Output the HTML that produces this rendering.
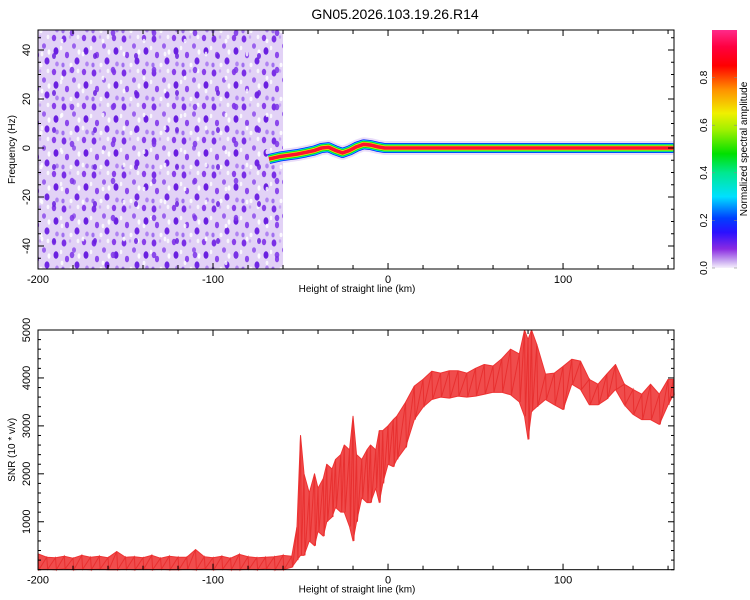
<!DOCTYPE html>
<html><head><meta charset="utf-8">
<style>
html,body{margin:0;padding:0;background:#fff;}
svg{display:block;font-family:"Liberation Sans",sans-serif;}
</style></head>
<body>
<svg id="fig" width="750" height="600" viewBox="0 0 750 600" xmlns="http://www.w3.org/2000/svg">
<defs>
<pattern id="noiseA" width="30" height="34" patternUnits="userSpaceOnUse">
<rect width="30" height="34" fill="#e2d2f6"/>
<ellipse cx="4" cy="5" rx="2.4" ry="3.6" fill="#7a2fe6"/>
<ellipse cx="14" cy="12" rx="2" ry="2.8" fill="#9a60ee"/>
<ellipse cx="24" cy="4" rx="2.2" ry="3.2" fill="#8a40ea"/>
<ellipse cx="26" cy="17" rx="2.5" ry="3.8" fill="#6a1fe0"/>
<ellipse cx="7" cy="21" rx="2.1" ry="3.3" fill="#8c48ec"/>
<ellipse cx="17" cy="27" rx="2.5" ry="3.6" fill="#7026e4"/>
<ellipse cx="27" cy="30" rx="1.8" ry="2.5" fill="#b083f2"/>
<ellipse cx="3" cy="31" rx="1.6" ry="2.4" fill="#a070f0"/>
<ellipse cx="11" cy="31" rx="1.5" ry="2.2" fill="#fff" opacity="0.85"/>
<ellipse cx="19" cy="18" rx="1.5" ry="2.8" fill="#fff" opacity="0.9"/>
<ellipse cx="1" cy="14" rx="1.3" ry="2.2" fill="#fff" opacity="0.8"/>
<ellipse cx="18" cy="3" rx="1.4" ry="2.2" fill="#fff" opacity="0.8"/>
<ellipse cx="10" cy="3" rx="1.2" ry="1.8" fill="#c8a8f4"/>
</pattern>
<pattern id="noiseB" width="41" height="37" patternUnits="userSpaceOnUse" patternTransform="translate(7,11)">
<ellipse cx="6" cy="8" rx="2" ry="3" fill="#6a1fe0" opacity="0.85"/>
<ellipse cx="24" cy="22" rx="2.3" ry="3.2" fill="#7c34e8" opacity="0.85"/>
<ellipse cx="35" cy="6" rx="1.4" ry="2.4" fill="#fff" opacity="0.8"/>
<ellipse cx="14" cy="30" rx="1.4" ry="2.2" fill="#fff" opacity="0.8"/>
</pattern>
<linearGradient id="cbar" x1="0" y1="1" x2="0" y2="0">
<stop offset="0" stop-color="#f6f0fc"/>
<stop offset="0.03" stop-color="#c8a8f0"/>
<stop offset="0.08" stop-color="#8a2be2"/>
<stop offset="0.15" stop-color="#2a10ff"/>
<stop offset="0.21" stop-color="#0040ff"/>
<stop offset="0.3" stop-color="#00e0ff"/>
<stop offset="0.4" stop-color="#00e890"/>
<stop offset="0.48" stop-color="#00e000"/>
<stop offset="0.58" stop-color="#a0f000"/>
<stop offset="0.65" stop-color="#f0f000"/>
<stop offset="0.75" stop-color="#ff9000"/>
<stop offset="0.85" stop-color="#ff0000"/>
<stop offset="0.93" stop-color="#ff0040"/>
<stop offset="1" stop-color="#ff2a8a"/>
</linearGradient>
</defs>
<text x="395" y="19" text-anchor="middle" font-size="14" fill="#000">GN05.2026.103.19.26.R14</text>
<g id="topPanel"></g>
<g id="botPanel"></g>
<g id="cbPanel"></g>
</svg>
<script>
// ---------- data ----------
const ridgeKm   = [-68,-62,-57,-52,-47,-42,-38,-34,-30,-26,-22,-18,-14,-10,-6,-2,20,60,100,140,163];
const ridgeHz   = [-4.5,-3.5,-3,-2.5,-1.8,-1,0,0.3,-1,-2,-1,0.5,1.5,1.2,0.5,0,0,0,0,0,0];
const snrKm  = [-200,-195,-190,-185,-180,-175,-170,-165,-160,-155,-150,-145,-140,-135,-130,-125,-120,-115,-110,-105,-100,-95,-90,-85,-80,-75,-70,-65,-60,-55,-52,-50,-48,-45,-42,-40,-37,-35,-32,-30,-27,-25,-22,-20,-18,-15,-12,-10,-7,-5,-3,0,3,5,10,15,20,25,30,35,40,45,50,55,60,65,70,75,78,80,82,85,90,95,100,105,110,115,120,125,130,135,140,145,150,155,160,163];
const snrHi  = [330,260,250,280,240,300,260,280,250,380,260,270,250,300,240,280,260,260,420,270,250,280,240,320,270,250,260,270,300,280,900,2800,2000,1600,2000,1700,1900,2200,2100,2300,2400,2600,2500,3200,2400,2300,2500,2600,2500,2900,2900,3000,3130,3200,3490,3830,3970,4140,4100,4150,4150,4100,4200,4280,4250,4400,4600,4500,5000,4800,5000,4700,4080,4100,4240,4390,4350,3970,3870,4080,4280,3870,3760,3660,3870,3660,3970,3970];
const snrLo  = [0,10,0,20,0,10,0,15,0,0,10,0,20,0,10,0,0,10,0,20,0,10,0,0,10,0,20,0,0,50,200,300,300,600,500,800,700,1000,1100,1300,1200,1200,900,600,1000,1500,1400,1400,1700,1400,1800,2200,2150,2300,2550,3130,3390,3550,3600,3580,3620,3600,3620,3660,3700,3700,3650,3500,3200,2720,3300,3400,3550,3440,3340,3870,3760,3440,3440,3560,3760,3440,3240,3130,3130,3030,3440,3640];
const xTicks = [-200,-100,0,100];
const fTicks = [-40,-20,0,20,40];
const sTicks = [1000,2000,3000,4000,5000];
const cTicks = [0.0,0.2,0.4,0.6,0.8];

const NS='http://www.w3.org/2000/svg';
function mk(tag,attrs,parent){const e=document.createElementNS(NS,tag);for(const k in attrs)e.setAttribute(k,attrs[k]);parent.appendChild(e);return e;}
const X0=38,X1=674,KM0=-200,KM1=163.4;
const xs=v=>X0+(v-KM0)*(X1-X0)/(KM1-KM0);
const T0=30,T1=269; const fy=v=>148-v*2.45;
const B0=330,B1=569.7; const sy=v=>B1-v*(B1-B0)/5000;

function axes(g,y0,y1,yMinorStep,yMin,yMax,yScale,ticks,fmt,yname,ylab){
  mk('rect',{x:X0,y:y0,width:X1-X0,height:y1-y0,fill:'none',stroke:'#000','stroke-width':1},g);
  for(let v=-200;v<=160;v+=20){const x=xs(v);const maj=v%100===0;const L=maj?6:4;
    mk('line',{x1:x,y1:y0,x2:x,y2:y0+L,stroke:'#000'},g);mk('line',{x1:x,y1:y1,x2:x,y2:y1-L,stroke:'#000'},g);}
  xTicks.forEach(v=>{const t=mk('text',{x:xs(v),y:y1+14,'text-anchor':'middle','font-size':11},g);t.textContent=v;
    
    });
  const xl=mk('text',{x:357,y:y1+23,'text-anchor':'middle','font-size':10},g);xl.textContent='Height of straight line (km)';
  
  
  for(let v=yMin;v<=yMax;v+=yMinorStep){const y=yScale(v);if(y<y0-0.5||y>y1+0.5)continue;
    const maj=ticks.includes(v);const L=maj?6:3;
    mk('line',{x1:X0,y1:y,x2:X0+L,y2:y,stroke:'#000'},g);mk('line',{x1:X1,y1:y,x2:X1-L,y2:y,stroke:'#000'},g);}
  ticks.forEach(v=>{const y=yScale(v);const t=mk('text',{x:0,y:0,'text-anchor':'middle','font-size':11,transform:`translate(30,${y}) rotate(-90)`},g);t.textContent=fmt(v);
    
    });
  const yl=mk('text',{x:0,y:0,'text-anchor':'middle','font-size':10,transform:`translate(15,${(y0+y1)/2}) rotate(-90)`},g);yl.textContent=ylab;
  
  
}

// ---------- top spectrogram ----------
const topG=document.getElementById('topPanel');


const nz=mk('rect',{x:X0,y:T0,width:xs(-60)-X0,height:T1-T0,fill:'url(#noiseA)'},topG);


mk('rect',{x:X0,y:T0,width:xs(-60)-X0,height:T1-T0,fill:'url(#noiseB)'},topG);
const rpts=ridgeKm.map((k,i)=>`${xs(k)},${fy(ridgeHz[i])}`).join(' ');
const layers=[[14,'#e4d4f8',0.8],[10,'#0020ff',1],[8.5,'#00d8f0',1],[7,'#10e020',1],[5,'#f0f000',1],[3.6,'#ff1030',1]];
layers.forEach(([w,c,o])=>{const p=mk('polyline',{points:rpts,fill:'none',stroke:c,'stroke-width':w,opacity:o,'stroke-linejoin':'round','stroke-linecap':'butt'},topG);
  
  });
axes(topG,T0,T1,5,-50,50,fy,fTicks,v=>v,'y-axis-title','Frequency (Hz)');

// ---------- bottom SNR ----------
const botG=document.getElementById('botPanel');


let band=snrKm.map((k,i)=>`${xs(k)},${sy(snrHi[i])}`).concat(snrKm.slice().reverse().map((k,j)=>{const i=snrKm.length-1-j;return `${xs(k)},${sy(snrLo[i])}`;})).join(' ');
const bp=mk('polygon',{points:band,fill:'#ee3333','fill-opacity':0.88,stroke:'#ee3333','stroke-width':1,'stroke-linejoin':'round'},botG);


let zz=[];snrKm.forEach((k,i)=>{zz.push(`${xs(k)},${sy(snrHi[i])}`);zz.push(`${xs(k)+0.9},${sy(snrLo[i])}`);});
const zp=mk('polyline',{points:zz.join(' '),fill:'none',stroke:'#e83030','stroke-width':1},botG);


axes(botG,B0,B1,200,0,5000,sy,sTicks,v=>v,'y-axis-title-snr','SNR (10 * v/v)');

// ---------- colorbar ----------
const cbG=document.getElementById('cbPanel');


const CB0=30,CB1=268;const cy=v=>CB1-v*(CB1-CB0);
mk('rect',{x:712,y:CB0,width:25,height:CB1-CB0,fill:'url(#cbar)'},cbG);
cTicks.forEach(v=>{const y=cy(v);
  mk('line',{x1:712,y1:y,x2:715,y2:y,stroke:'#888','stroke-width':0.6},cbG);mk('line',{x1:737,y1:y,x2:734,y2:y,stroke:'#888','stroke-width':0.6},cbG);
  const t=mk('text',{x:0,y:0,'text-anchor':'middle','font-size':10,transform:`translate(707,${y}) rotate(-90)`},cbG);t.textContent=v.toFixed(1);
  
  });
const ct=mk('text',{x:0,y:0,'text-anchor':'middle','font-size':10,transform:`translate(747,${(CB0+CB1)/2}) rotate(-90)`},cbG);
ct.textContent='Normalized spectral amplitude';


</script>
</body></html>
